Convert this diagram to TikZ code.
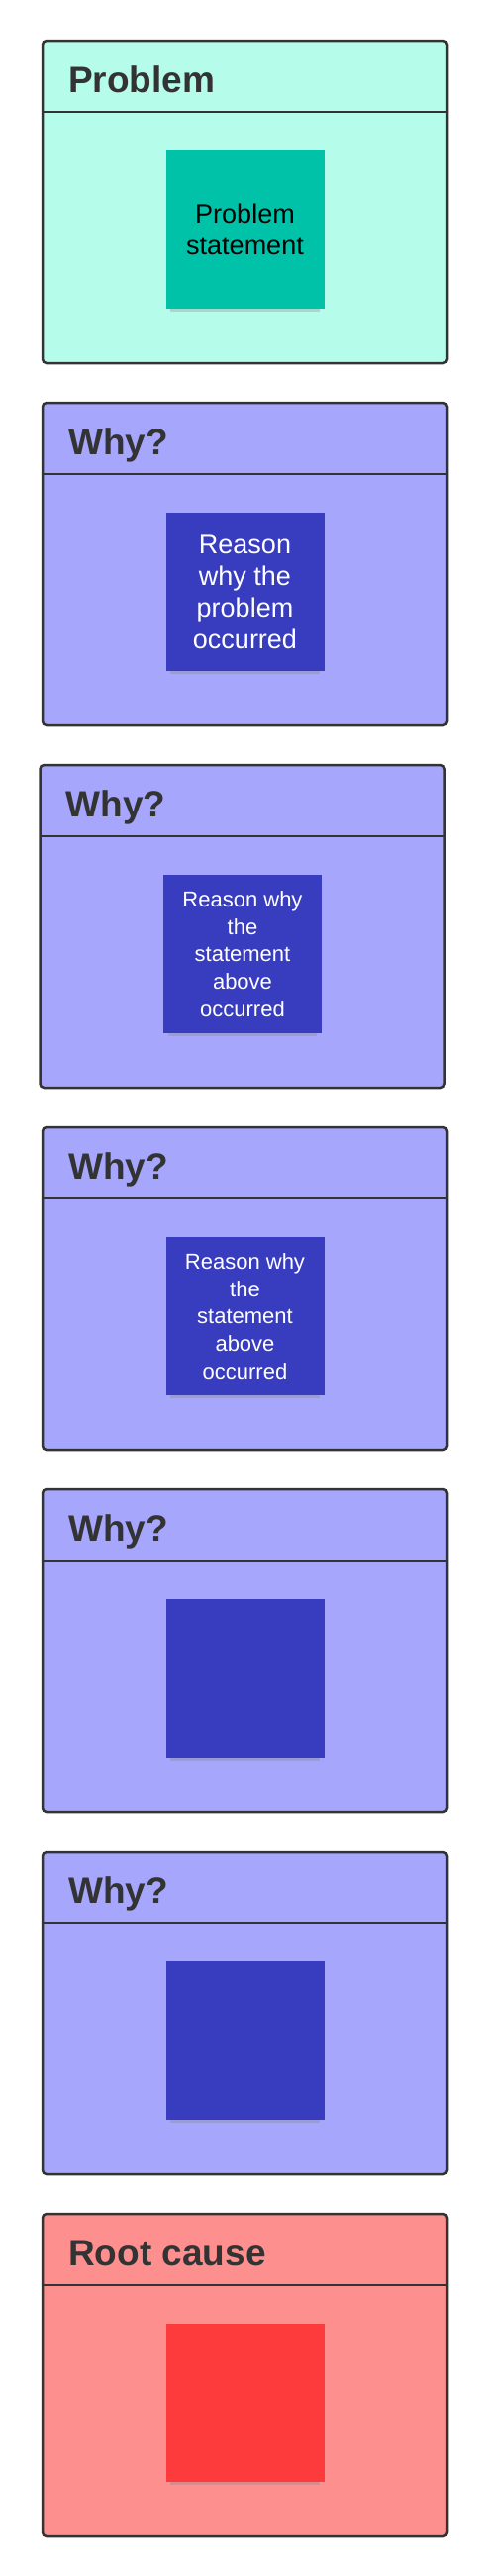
\documentclass[tikz,border=0pt]{standalone}
\usepackage{fontspec}
\setmainfont{Liberation Sans}
\usepackage{tikz}
\usetikzlibrary{positioning, shadows}
\definecolor{edge}{HTML}{333333}
\definecolor{tealbg}{HTML}{B5FCEB}
\definecolor{tealnote}{HTML}{00C2A8}
\definecolor{purplebg}{HTML}{A5A6FC}
\definecolor{purplenote}{HTML}{383DBF}
\definecolor{redbg}{HTML}{FD8F8F}
\definecolor{rednote}{HTML}{FD3B3D}
\tikzstyle{panel} = [rectangle, draw=edge, line width=2.5pt, rounded corners=4pt, minimum width=409pt, minimum height=326pt, outer sep=0pt]
\tikzstyle{divider} = [draw=edge, line width=2.5pt]
\tikzstyle{heading} = [anchor=base west, inner sep=0pt, text=edge, font=\fontsize{37}{40}\selectfont\bfseries]
\tikzstyle{sticky} = [rectangle, minimum size=160pt, inner sep=0pt, outer sep=0pt, align=center, text=white, font=\fontsize{27}{32}\selectfont, drop shadow={shadow xshift=0pt, shadow yshift=-8pt, shadow scale=0.94, opacity=0.28}]
\tikzstyle{small} = [font=\fontsize{22}{27.6}\selectfont]

\begin{document}
\begin{tikzpicture}
    \useasboundingbox (0,0) rectangle (493pt,-2603pt);

        % panels
        \node (problem) [panel, fill=tealbg] at (247.5pt,-204pt) {};
        \node (why1) [panel, fill=purplebg, below=40pt of problem] {};
        \node (why2) [panel, fill=purplebg, below=40pt of why1, xshift=-2.5pt] {};
        \node (why3) [panel, fill=purplebg, below=40pt of why2, xshift=2.5pt] {};
        \node (why4) [panel, fill=purplebg, below=40pt of why3] {};
        \node (why5) [panel, fill=purplebg, below=40pt of why4] {};
        \node (root) [panel, fill=redbg, below=40pt of why5] {};

        % dividers and headings
        \foreach \p/\t in {problem/Problem, why1/Why?, why2/Why?, why3/Why?, why4/Why?, why5/Why?, root/Root cause} {
            \draw [divider] ([yshift=-72pt]\p.north west) -- ([yshift=-72pt]\p.north east);
            \node (\p_title) [heading] at ([xshift=26pt, yshift=-52pt]\p.north west) {\t};
        }

        % notes
        \node (problem_note) [sticky, fill=tealnote, text=black, below=111pt of problem.north] {Problem\\statement};
        \node (why1_note) [sticky, fill=purplenote, below=111pt of why1.north] {Reason\\why the\\problem\\occurred};
        \node (why2_note) [sticky, small, fill=purplenote, below=111pt of why2.north] {Reason why\\the\\statement\\above\\occurred};
        \node (why3_note) [sticky, small, fill=purplenote, below=111pt of why3.north] {Reason why\\the\\statement\\above\\occurred};
        \node (why4_note) [sticky, fill=purplenote, below=111pt of why4.north] {};
        \node (why5_note) [sticky, fill=purplenote, below=111pt of why5.north] {};
        \node (root_note) [sticky, fill=rednote, below=111pt of root.north] {};

    \end{tikzpicture}
\end{document}
